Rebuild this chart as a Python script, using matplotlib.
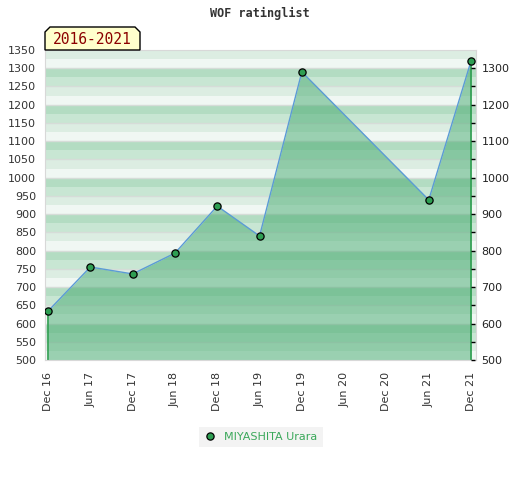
import numpy as np
import pandas as pd
import matplotlib
matplotlib.use("Agg")
import matplotlib.pyplot as plt
import matplotlib.patches as mpatches
from matplotlib.lines import Line2D

# data
dates = ["2016-12", "2017-06", "2017-12", "2018-06", "2018-12",
         "2019-06", "2019-12", "2021-06", "2021-12"]
ratings = [634, 755, 736, 793, 922, 840, 1290, 939, 1320]
tick_dates = ["2016-12", "2017-06", "2017-12", "2018-06", "2018-12", "2019-06",
              "2019-12", "2020-06", "2020-12", "2021-06", "2021-12"]
player = "MIYASHITA Urara"
period_label = "2016-2021"
title = "WOF ratinglist"

W, H = 520, 480
start = pd.Period(dates[0], freq="M")
months = [(pd.Period(d, freq="M") - start).n for d in dates]
tick_pos = [(pd.Period(d, freq="M") - start).n for d in tick_dates]
tick_labels = [pd.Period(d, freq="M").strftime("%b %y") for d in tick_dates]


def px(x, y):
    return x / W, 1 - y / H


fig = plt.figure(figsize=(W / 100, H / 100), dpi=100)
fig.patch.set_facecolor("white")
ax = fig.add_axes([45 / W, 1 - 360 / H, (476 - 45) / W, (360 - 50) / H])
ax.set_xlim(-0.43, 60.7)
ax.set_ylim(500, 1350)

# striped background, period of 100 points
band_cols = ["#f0f7f3", "#dcede2", "#c8e6d3", "#b3dcc2"]
for lo in range(500, 1350, 25):
    ax.axhspan(lo, lo + 25, color=band_cols[(lo % 100) // 25], lw=0, zorder=0)
for v in range(550, 1350, 50):
    ax.axhline(v, color="#d6dcd8", lw=1, zorder=0.5)

ax.fill_between(months, ratings, 500, color="#46aa70", alpha=0.5, lw=0, zorder=1)
ax.vlines([months[0], months[-1]], 500, [ratings[0], ratings[-1]],
          color="#2e9e4f", lw=1.2, zorder=2)
ax.plot(months, ratings, color="#5b9bd5", lw=1.0, zorder=3)
ax.plot(months, ratings, ls="none", marker="o", ms=5.2, mfc="#2e9e52",
        mec="black", mew=0.9, zorder=4)

for s in ax.spines.values():
    s.set_color("#d8d8d8")
ax.set_yticks(range(500, 1351, 50))
ax.tick_params(axis="y", length=0, pad=6.5, labelsize=8, colors="#333333")
ax.set_xticks(tick_pos)
ax.set_xticklabels(tick_labels, rotation=90)
ax.tick_params(axis="x", length=0, pad=8.5, labelsize=8, colors="#333333")

# right axis sits on the last data point
ax2 = ax.twinx()
ax2.set_ylim(500, 1350)
ax2.spines["right"].set_position(("data", months[-1]))
for s in ax2.spines.values():
    s.set_visible(False)
ax2.set_yticks(range(500, 1301, 100))
ax2.set_yticks(range(550, 1301, 100), minor=True)
ax2.tick_params(axis="y", which="both", length=3, width=1, colors="black",
                pad=4.5, labelsize=8, direction="out")
ax2.tick_params(axis="y", which="both", labelcolor="#222222")

# title
fig.text(*px(260, 13), title, ha="center", va="center", fontsize=8.5,
         family="DejaVu Sans Mono", weight="bold", color="#333333")

# period tag with chamfered top corners
tag = [(45, 50), (45, 32), (50, 27), (135, 27), (140, 32), (140, 50)]
fig.patches.append(mpatches.Polygon([px(*p) for p in tag], closed=True,
                                    transform=fig.transFigure,
                                    facecolor="#ffffcc", edgecolor="black",
                                    lw=1, zorder=5))
fig.text(*px(92, 40), period_label, ha="center", va="center", fontsize=10.5,
         family="DejaVu Sans Mono", color="#8b0000", zorder=6)

# legend
handle = Line2D([], [], ls="none", marker="o", ms=5.2, mfc="#2e9e52",
                mec="black", mew=0.9)
leg = fig.legend([handle], [player], loc="center",
                 bbox_to_anchor=px(261, 437), fontsize=8, frameon=True,
                 fancybox=False, handlelength=1.0, handletextpad=0.8,
                 borderpad=0.45, borderaxespad=0, labelcolor="#3aa85a")
leg.get_frame().set_facecolor("#f0f0f0")
leg.get_frame().set_edgecolor("none")

fig.savefig("out.png", dpi=100)
